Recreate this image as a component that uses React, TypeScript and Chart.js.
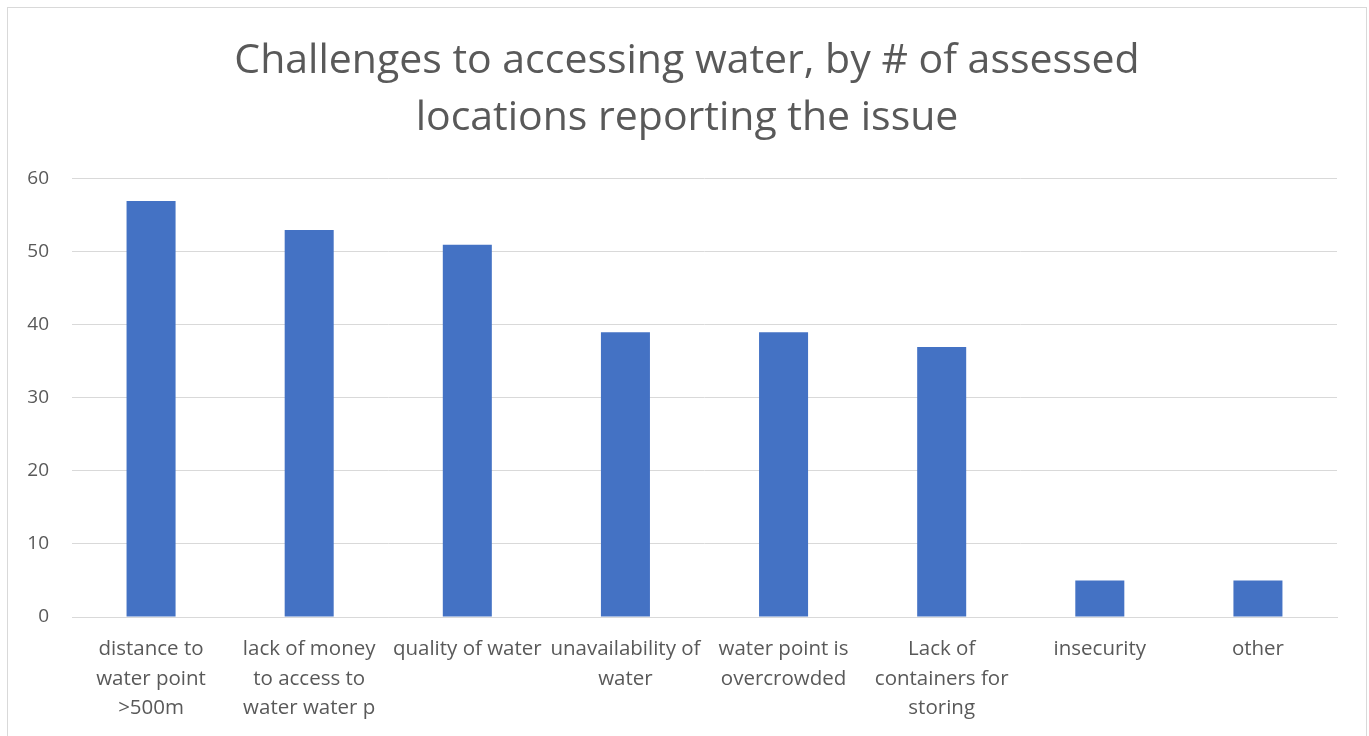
import React, { useEffect, useRef } from "react";
import { Chart, registerables } from "chart.js";

Chart.register(...registerables);

const categories: string[][] = [
  ["distance to", "water point", ">500m"],
  ["lack of money", "to access to", "water water p"],
  ["quality of water"],
  ["unavailability of", "water"],
  ["water point is", "overcrowded"],
  ["Lack of", "containers for", "storing"],
  ["insecurity"],
  ["other"],
];
const values: number[] = [57, 53, 51, 39, 39, 37, 5, 5];
const titleLines: string[] = [
  "Challenges to accessing water, by # of assessed",
  "locations reporting the issue",
];

const FONT = "'Open Sans', 'Noto Sans', sans-serif";

export default function App() {
  const ref = useRef<HTMLCanvasElement | null>(null);
  useEffect(() => {
    if (!ref.current) return;
    const chart = new Chart(ref.current, {
      type: "bar",
      data: {
        labels: categories,
        datasets: [
          {
            data: values,
            backgroundColor: "#4472C4",
            barPercentage: 0.31,
            categoryPercentage: 1,
          },
        ],
      },
      options: {
        animation: false,
        responsive: false,
        maintainAspectRatio: false,
        layout: { padding: { left: 0, right: 0, top: 0, bottom: 0 } },
        plugins: {
          legend: { display: false },
          tooltip: { enabled: false },
          title: {
            display: true,
            text: titleLines,
            color: "#595959",
            font: { family: FONT, size: 41, weight: "normal", lineHeight: 1.39 },
            padding: { top: 25, bottom: 32 },
          },
        },
        scales: {
          x: {
            grid: { display: false, drawTicks: false },
            border: { display: true, color: "#d9d9d9", width: 1 },
            ticks: {
              color: "#595959",
              font: { family: FONT, size: 20.5, lineHeight: 1.42 },
              padding: 18,
              maxRotation: 0,
              autoSkip: false,
            },
            afterFit: (scale: any) => {
              scale.height = 131;
            },
          },
          y: {
            min: 0,
            max: 60,
            ticks: {
              stepSize: 10,
              color: "#595959",
              font: { family: FONT, size: 19 },
              padding: 23,
            },
            grid: { color: "#d9d9d9", lineWidth: 1, drawTicks: false },
            border: { display: false },
            afterFit: (scale: any) => {
              scale.width = 64;
            },
          },
          yRight: {
            position: "right",
            min: 0,
            max: 60,
            ticks: { display: false },
            grid: { display: false, drawTicks: false },
            border: { display: false },
            afterFit: (scale: any) => {
              scale.width = 29;
            },
          },
        },
      },
    });
    return () => chart.destroy();
  }, []);
  return (
    <div
      style={{
        position: "fixed",
        left: 7,
        top: 7,
        width: 1358,
        height: 740,
        border: "1px solid #d9d9d9",
        background: "#fff",
      }}
    >
      <canvas ref={ref} width={1358} height={740} style={{ display: "block" }} />
    </div>
  );
}
